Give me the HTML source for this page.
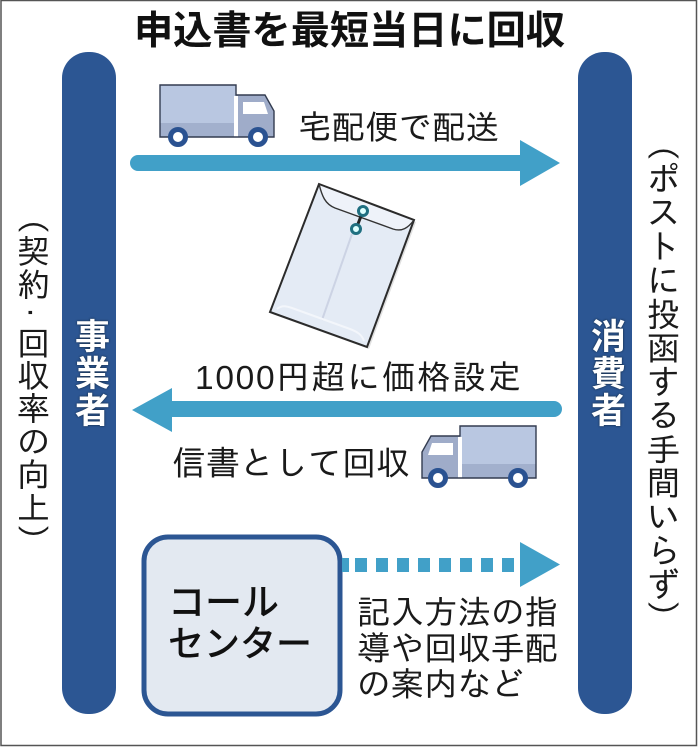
<!DOCTYPE html>
<html lang="ja"><head><meta charset="utf-8">
<style>
html,body{margin:0;padding:0;background:#fff}
#w{position:relative;width:698px;height:747px;overflow:hidden;background:#fff;font-family:"Liberation Sans","IPAGothic","Noto Sans CJK JP",sans-serif;color:#1a1a1a}
svg{position:absolute;left:0;top:0}
.t{position:absolute;white-space:nowrap;line-height:1}
.v{position:absolute;writing-mode:vertical-rl;white-space:nowrap;line-height:1}
.b{font-family:"Liberation Sans","Noto Sans CJK JP",sans-serif}
</style></head><body><div id="w">
<svg width="698" height="747" viewBox="0 0 698 747">
<defs>
<g id="truck">
<rect x="160" y="85" width="76" height="52" fill="#b9c7e1"/>
<rect x="160" y="123" width="76" height="14" fill="#a2b0cd"/>
<path d="M236 95H265L274 111V137H236Z" fill="#9facc9"/>
<rect x="234" y="96" width="4" height="41" fill="#fff"/>
<path d="M243 102H264L268 114H243Z" fill="#fff"/>
<path d="M160 137V85H236V95H265L274 111V137Z" fill="none" stroke="#333c50" stroke-width="1.4"/>
<circle cx="178" cy="137" r="7.500" fill="#fff" stroke="#2a5291" stroke-width="5"/>
<circle cx="258" cy="137" r="7.500" fill="#fff" stroke="#2a5291" stroke-width="5"/>
</g>
</defs>
<rect x="1" y="0.5" width="695.5" height="745" fill="none" stroke="#555" stroke-width="1.5"/>
<rect x="62" y="52" width="54" height="662" rx="26" fill="#2c5693"/>
<rect x="578" y="52" width="54" height="662" rx="26" fill="#2c5693"/>
<use href="#truck"/>
<use href="#truck" transform="translate(696,341) scale(-1,1)"/>
<path d="M138 155H520V140L560 163L520 186V171H138A8 8 0 0 1 138 155Z" fill="#41a0c8"/>
<path d="M554 401H172V388L132 410L172 432V417H554A8 8 0 0 0 554 401Z" fill="#41a0c8"/>
<path d="M272 314L369 349L416 222L410 220Z" fill="#ccc" opacity=".6"/>
<path d="M319 184L414 220L367 347L270 312Z" fill="#e4ebf5"/>
<path d="M319 184C322 196 325 204 335 208L393 229C402 232 408 228 414 220Z" fill="#eef2f9"/>
<path d="M352 234L322 320" stroke="#ccd3e4" stroke-width="2" fill="none"/>
<path d="M277 309C282 305 286 306 292 308L350 329C358 332 362 335 364 341" stroke="#f3f6fb" stroke-width="2" fill="none"/>
<path d="M319 184L414 220L367 347L270 312Z" fill="none" stroke="#2b2b2b" stroke-width="2"/>
<path d="M319 184C322 196 325 204 335 208L393 229C402 232 408 228 414 220" fill="none" stroke="#333" stroke-width="1.4"/>
<path d="M363 211L356 229" stroke="#222" stroke-width="3"/>
<circle cx="363" cy="211" r="4.500" fill="#dff" stroke="#1f6f80" stroke-width="3"/>
<circle cx="356" cy="229" r="4.500" fill="#dff" stroke="#1f6f80" stroke-width="3"/>
<rect x="144" y="537" width="196" height="177" rx="24" fill="#e3e9f1" stroke="#2c5693" stroke-width="5"/>
<g fill="#41a0c8">
<rect x="342" y="558" width="7" height="14"/><rect x="355" y="558" width="12" height="14"/><rect x="376" y="558" width="12" height="14"/><rect x="397" y="558" width="12" height="14"/><rect x="418" y="558" width="12" height="14"/><rect x="439" y="558" width="12" height="14"/><rect x="460" y="558" width="12" height="14"/><rect x="481" y="558" width="12" height="14"/><rect x="502" y="558" width="12" height="14"/>
<path d="M520 542L560 564.500L520 587Z"/>
</g>
</svg>
<div class="t b" style="left:134px;top:12px;font-size:39.200px;font-weight:700;color:#111">申込書を最短当日に回収</div>
<div class="t" style="left:298px;top:112px;font-size:33.500px">宅配便で配送</div>
<div class="t" style="left:195px;top:362px;font-size:33.500px;letter-spacing:1.700px">1000円超に価格設定</div>
<div class="t" style="left:172px;top:447px;font-size:34px">信書として回収</div>
<div class="t b" style="left:168px;top:584px;font-size:37px;font-weight:500;color:#111">コール</div>
<div class="t b" style="left:168px;top:626px;font-size:36px;font-weight:500;color:#111">センター</div>
<div class="t" style="left:357px;top:597px;font-size:33.500px">記入方法の指</div>
<div class="t" style="left:357px;top:633px;font-size:33.500px">導や回収手配</div>
<div class="t" style="left:357px;top:669px;font-size:33.500px">の案内など</div>
<div class="v b" style="left:72px;top:318px;font-size:35px;font-weight:700;color:#fff;letter-spacing:2px;text-shadow:0 0 2px #123">事業者</div>
<div class="v b" style="left:588px;top:318px;font-size:35px;font-weight:700;color:#fff;letter-spacing:2px;text-shadow:0 0 2px #123">消費者</div>
<div class="v" style="left:16px;top:200.500px;font-size:33px">（契約<span style="margin:7px 0">·</span>回収率の向上）</div>
<div class="v" style="left:645.500px;top:126.500px;font-size:33.500px;letter-spacing:.3px">（ポストに投函する手間いらず）</div>
</div></body></html>
